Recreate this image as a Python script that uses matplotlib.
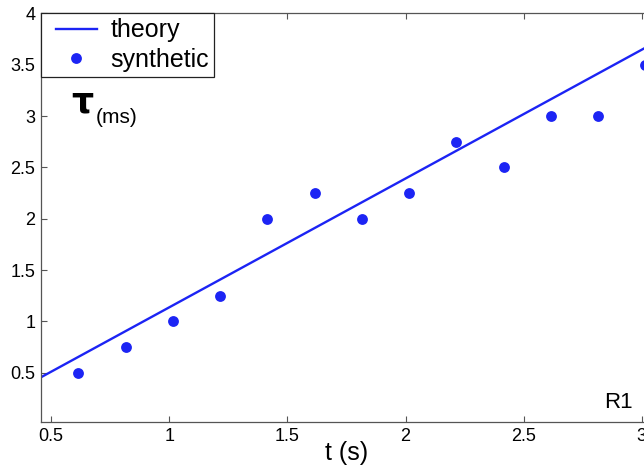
import matplotlib
matplotlib.use("Agg")
import matplotlib.pyplot as plt
from matplotlib.legend_handler import HandlerLine2D

plt.rcParams["font.family"] = ["Liberation Sans", "DejaVu Sans"]

# theory curve (straight line, end points)
t_theory   = [0.456, 3.043]
tau_theory = [0.455, 3.70]

# synthetic measurements
t_synth   = [0.615, 0.815, 1.015, 1.215, 1.415, 1.615, 1.815,
             2.015, 2.215, 2.415, 2.615, 2.815, 3.015]
tau_synth = [0.5, 0.75, 1.0, 1.25, 2.0, 2.25, 2.0,
             2.25, 2.75, 2.5, 3.0, 3.0, 3.5]

x_ticks = [0.5, 1, 1.5, 2, 2.5, 3]
y_ticks = [0.5, 1, 1.5, 2, 2.5, 3, 3.5, 4]
x_ticklabels = ["0.5", "1", "1.5", "2", "2.5", "3"]
y_ticklabels = ["0.5", "1", "1.5", "2", "2.5", "3", "3.5", "4"]

BLUE = "#1c24f4"
W, H = 644, 466

fig = plt.figure(figsize=(W / 100, H / 100), dpi=100)
# axes run past the right edge of the figure
ax = fig.add_axes([40.7 / W, (H - 422.3) / H, (652 - 40.7) / W, (422.3 - 13.3) / H])

ln, = ax.plot(t_theory, tau_theory, "-", color=BLUE, linewidth=1.7, label="theory")
pts, = ax.plot(t_synth, tau_synth, "o", color=BLUE, markersize=7.8, markeredgewidth=0,
               label="synthetic", clip_on=False)

ax.set_xlim(0.456, 3.043)
ax.set_ylim(0.018, 4)
ax.set_xticks(x_ticks)
ax.set_yticks(y_ticks)
ax.set_xticklabels(x_ticklabels)
ax.set_yticklabels(y_ticklabels)
ax.tick_params(direction="in", length=4, width=0.8, color="#555555",
               top=True, right=True, labelsize=13, pad=4)
for s in ax.spines.values():
    s.set_color("#555555")
    s.set_linewidth(0.9)

ax.set_xlabel("t (s)", fontsize=18)
ax.xaxis.set_label_coords(0.5, -0.045)
ax.xaxis.label.set_verticalalignment("top")

# y label drawn inside the axes
ax.text(0.585, 3.03, "τ", fontsize=25, fontweight="bold", family="DejaVu Sans",
        ha="left", va="baseline")
ax.text(0.69, 2.93, "(ms)", fontsize=15, ha="left", va="baseline")

ax.text(2.96, 0.155, "R1", fontsize=16, ha="right", va="baseline")

# legend, handles shifted right inside their box
hmap = {ln: HandlerLine2D(xpad=0.4), pts: HandlerLine2D(xpad=0.4)}
leg = ax.legend(handler_map=hmap, loc="upper left", bbox_to_anchor=(0, 1),
                borderaxespad=0, fontsize=18, frameon=True, fancybox=False,
                framealpha=1, edgecolor="#222222", handlelength=2.04,
                handletextpad=0.56, labelspacing=0.22, borderpad=0.2)
leg.get_frame().set_linewidth(0.9)

fig.savefig("out.png", dpi=100)
